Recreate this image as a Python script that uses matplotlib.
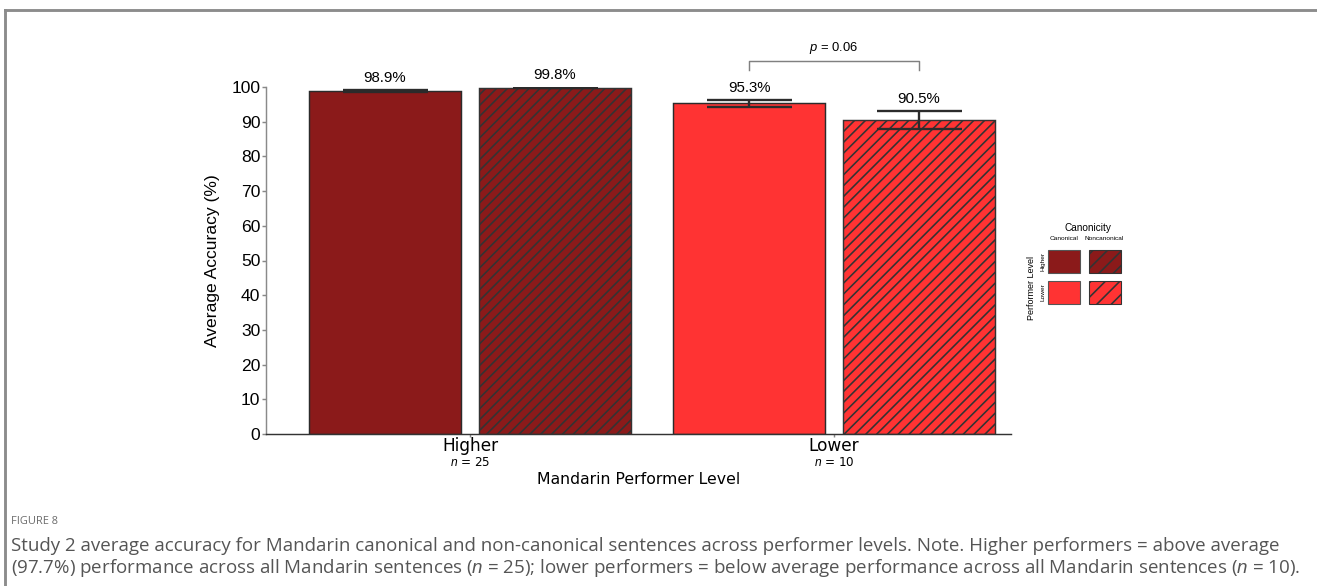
import numpy as np
import matplotlib.pyplot as plt
from matplotlib.patches import Rectangle
from matplotlib.lines import Line2D
import matplotlib.transforms as mtransforms

plt.rcParams['mathtext.fontset'] = 'custom'
plt.rcParams['mathtext.it'] = 'Liberation Sans:italic'
plt.rcParams['mathtext.rm'] = 'Liberation Sans'
plt.rcParams['hatch.linewidth'] = 0.9

# data
levels = ["Higher", "Lower"]
n_per_level = [25, 10]
canonical_acc = [98.9, 95.3]
noncanonical_acc = [99.8, 90.5]
canonical_err = [0.3, 1.0]
noncanonical_err = [0.1, 2.6]
p_label = "0.06"

DPI = 130
W, H = 1317, 586
PT = 72 / DPI  # pixels -> points

dark_red = "#8b1a1a"
bright_red = "#ff3333"
level_colors = [dark_red, bright_red]

fig = plt.figure(figsize=(W / DPI, H / DPI), dpi=DPI)
ax = fig.add_axes([266 / W, (H - 434) / H, (1011 - 266) / W, (434 - 87) / H])

x = np.arange(len(levels))
width = 0.4176
offset = 0.2335

err_kw = dict(ecolor="#2b2b2b", elinewidth=1.3 * PT * 1.8, capsize=42.5 * PT, capthick=1.3 * PT * 1.8)
ax.bar(x - offset, canonical_acc, width, color=level_colors, edgecolor="#2b2b2b",
       linewidth=0.8, yerr=canonical_err, error_kw=err_kw)
ax.bar(x + offset, noncanonical_acc, width, color=level_colors, edgecolor="#333333",
       linewidth=0.8, hatch="////", yerr=noncanonical_err, error_kw=err_kw)

# value labels above error bars
for xs, vals, errs in [(x - offset, canonical_acc, canonical_err),
                       (x + offset, noncanonical_acc, noncanonical_err)]:
    for xi, v, e in zip(xs, vals, errs):
        ax.annotate(f"{v}%", (xi, v + e), xytext=(0, 12 * PT), textcoords="offset points",
                    ha="center", va="center", fontsize=15 * PT, family="Liberation Sans")

# significance bracket between lower-level bars
x1, x2 = x[1] - offset, x[1] + offset
ax.plot([x1, x1, x2, x2], [104.9, 107.5, 107.5, 104.9], color="#808080", lw=0.8, clip_on=False)
ax.text((x1 + x2) / 2, 111.2, f"$p$ = {p_label}", ha="center", va="center",
        fontsize=13 * PT, family="Liberation Sans", clip_on=False)

ax.set_xlim((266 - 470) / 364, (1011 - 470) / 364)
ax.set_ylim(0, 100)
ax.set_yticks(np.arange(0, 101, 10))
ax.tick_params(axis="y", labelsize=17.5 * PT, length=4 * PT, color="#888888", pad=1)
ax.set_yticklabels([str(v) for v in range(0, 101, 10)], family="Liberation Sans")
ax.set_xticks(x)
ax.set_xticklabels([])
ax.tick_params(axis="x", length=3 * PT, color="#888888")
for s in ["top", "right"]:
    ax.spines[s].set_visible(False)
ax.spines["left"].set_color("#8a8a8a")
ax.spines["bottom"].set_color("#333333")
ax.set_ylabel("Average Accuracy (%)", fontsize=17.5 * PT, family="Liberation Sans", labelpad=6)

# x labels in data-x / figure-y coordinates
tr = mtransforms.blended_transform_factory(ax.transData, fig.transFigure)
for xi, lab, n in zip(x, levels, n_per_level):
    ax.text(xi, 1 - 446 / H, lab, transform=tr, ha="center", va="center",
            fontsize=17 * PT, family="DejaVu Sans")
    ax.text(xi, 1 - 463 / H, f"$n$ = {n}", transform=tr, ha="center", va="center",
            fontsize=12 * PT, family="DejaVu Sans")
fig.text(639 / W, 1 - 479 / H, "Mandarin Performer Level",
         ha="center", va="center", fontsize=15.8 * PT, family="DejaVu Sans")

# overlay in pixel coordinates: custom legend, frame, caption
ov = fig.add_axes([0, 0, 1, 1], facecolor="none")
ov.set_xlim(0, W)
ov.set_ylim(H, 0)
ov.axis("off")

ov.text(1088, 228, "Canonicity", ha="center", va="center", fontsize=10 * PT, family="Liberation Sans")
ov.text(1064, 238, "Canonical", ha="center", va="center", fontsize=6.5 * PT, family="Liberation Sans")
ov.text(1104, 238, "Noncanonical", ha="center", va="center", fontsize=6.5 * PT, family="Liberation Sans")
ov.text(1032, 288, "Performer Level", ha="center", va="center", rotation=90,
        fontsize=9 * PT, family="Liberation Sans")
row_y = [250, 281]
for ry, lab, col in zip(row_y, levels, level_colors):
    ov.text(1043, ry + 11.5, lab, ha="center", va="center", rotation=90,
            fontsize=6.5 * PT, family="Liberation Sans")
    ov.add_patch(Rectangle((1048, ry), 32, 23, facecolor=col, edgecolor="#555555", lw=0.6))
    ov.add_patch(Rectangle((1089, ry), 32, 23, facecolor=col, edgecolor="#333333", lw=0.6, hatch="///"))

ov.add_line(Line2D([5, 5], [10, H], color="#8c8c8c", lw=1.6 * PT * 1.8))
ov.add_line(Line2D([5, W], [10, 10], color="#8c8c8c", lw=1.6 * PT * 1.8))

ov.text(11, 521, "FIGURE 8", ha="left", va="center", fontsize=11 * PT, color="#6b6b6b",
        family="Open Sans")
ov.text(11, 546, "Study 2 average accuracy for Mandarin canonical and non-canonical sentences across "
        "performer levels. Note. Higher performers = above average",
        ha="left", va="center", fontsize=18.8 * PT, color="#555555", family="Open Sans")
ov.text(11, 568, "(97.7%) performance across all Mandarin sentences ($n$ = 25); lower performers = "
        "below average performance across all Mandarin sentences ($n$ = 10).",
        ha="left", va="center", fontsize=18.8 * PT, color="#555555", family="Open Sans")

fig.savefig("out.png", dpi=DPI)
